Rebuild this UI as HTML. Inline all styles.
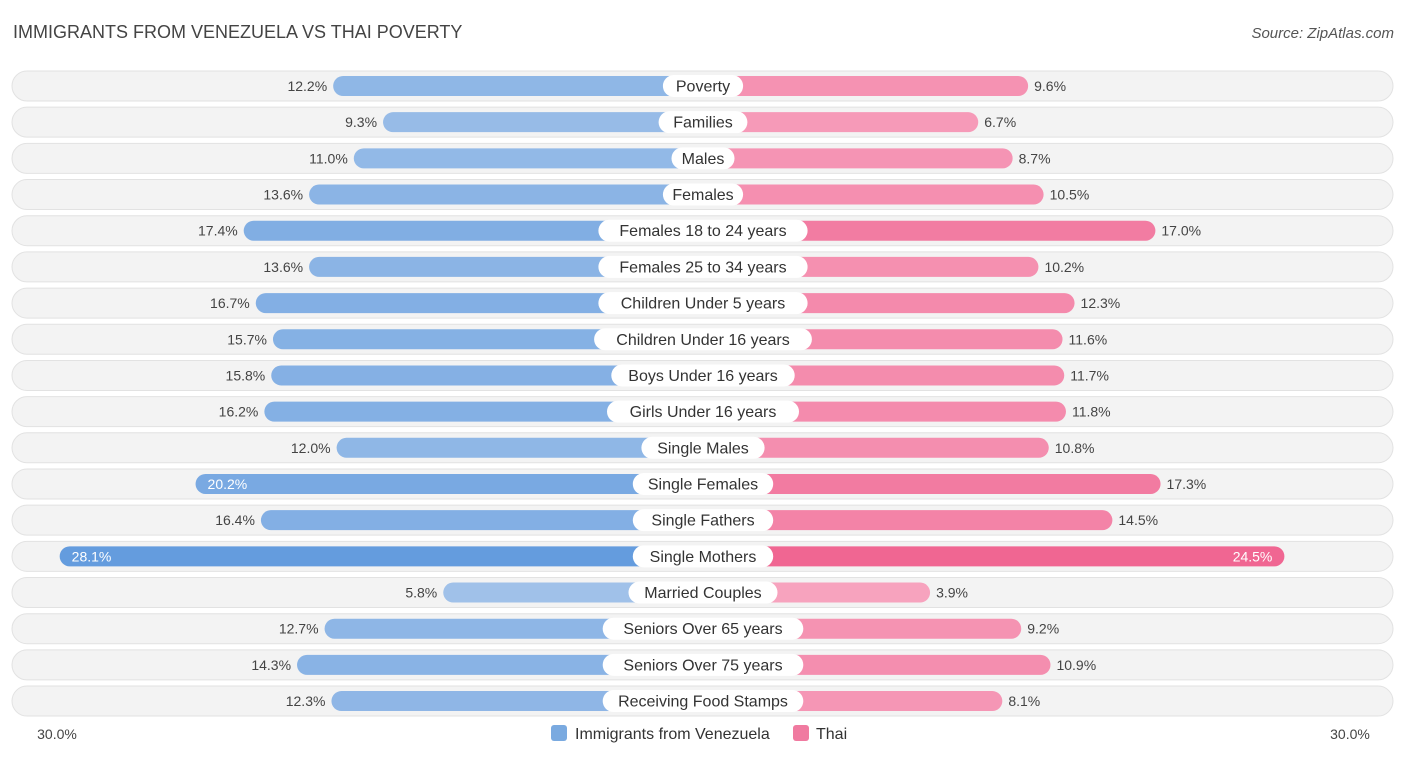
<!DOCTYPE html>
<html><head><meta charset="utf-8"><style>
body{margin:0;width:1406px;height:758px;background:#fff;font-family:"Liberation Sans",sans-serif;overflow:hidden;position:relative}
.t{position:absolute;left:13px;top:22px;font-size:18px;color:#444}
.s{position:absolute;right:12px;top:25px;font-size:15px;color:#555;font-style:italic}
</style></head><body>
<div class="t">IMMIGRANTS FROM VENEZUELA VS THAI POVERTY</div>
<div class="s">Source: ZipAtlas.com</div>
<svg id="c" width="1406" height="758" style="position:absolute;left:0;top:0"></svg>
<script>
const categories=["Poverty","Families","Males","Females","Females 18 to 24 years","Females 25 to 34 years","Children Under 5 years","Children Under 16 years","Boys Under 16 years","Girls Under 16 years","Single Males","Single Females","Single Fathers","Single Mothers","Married Couples","Seniors Over 65 years","Seniors Over 75 years","Receiving Food Stamps"];
const venezuela=[12.2,9.3,11.0,13.6,17.4,13.6,16.7,15.7,15.8,16.2,12.0,20.2,16.4,28.1,5.8,12.7,14.3,12.3];
const thai=[9.6,6.7,8.7,10.5,17.0,10.2,12.3,11.6,11.7,11.8,10.8,17.3,14.5,24.5,3.9,9.2,10.9,8.1];
const axisLabels=["30.0%","30.0%"];
const svg=document.getElementById('c');const NS='http://www.w3.org/2000/svg';
const cx=703,off=160,k=17.2;
const len=v=>off+k*v;
const rowY=i=>86+i*36.18;
function mk(t,a,p){const e=document.createElementNS(NS,t);for(const q in a)e.setAttribute(q,a[q]);(p||svg).appendChild(e);return e;}
function mix(a,b,t){return 'rgb('+a.map((x,i)=>Math.round(x+(b[i]-x)*t)).join(',')+')';}
categories.forEach((c,i)=>{
 const y=rowY(i);
 const g=mk('g',{});
 
 
 const bg=mk('rect',{x:12,y:y-15,width:1381,height:30,rx:15,fill:'#f3f3f3',stroke:'#e2e2e2'},g);
 
 const v=venezuela[i],w=thai[i];
 const tv=Math.min(1,v/28),tw=Math.min(1,w/24.5);
 const lb=mk('rect',{x:cx-len(v),y:y-10,width:len(v),height:20,rx:10,fill:mix([176,203,236],[100,156,222],tv)},g);
 
 const rb=mk('rect',{x:cx,y:y-10,width:len(w),height:20,rx:10,fill:mix([248,174,198],[240,102,146],tw)},g);
 
 const inL=v>19,inR=w>20;
 const t1=mk('text',{x:inL?cx-len(v)+12:cx-len(v)-6,y:y+5,'font-size':14,fill:inL?'#fff':'#444','text-anchor':inL?'start':'end'},g);
 t1.textContent=v.toFixed(1)+'%';
 const t2=mk('text',{x:inR?cx+len(w)-12:cx+len(w)+6,y:y+5,'font-size':14,fill:inR?'#fff':'#444','text-anchor':inR?'end':'start'},g);
 t2.textContent=w.toFixed(1)+'%';
 const tw2=c.length*8.6+20;
 const pill=mk('rect',{x:cx-tw2/2,y:y-11,width:tw2,height:22,rx:11,fill:'#fff'},g);
 
 const lt=mk('text',{x:cx,y:y+5.5,'font-size':16,fill:'#333','text-anchor':'middle'},g);
 lt.textContent=c;
});
const a1=mk('text',{x:57,y:739,'font-size':14,fill:'#444','text-anchor':'middle'});a1.textContent=axisLabels[0];

const a2=mk('text',{x:1350,y:739,'font-size':14,fill:'#444','text-anchor':'middle'});a2.textContent=axisLabels[1];

const l1=mk('rect',{x:551,y:725,width:16,height:16,rx:3,fill:'#7aaae0'});

const lt1=mk('text',{x:575,y:739,'font-size':16,fill:'#333'});lt1.textContent='Immigrants from Venezuela';

const l2=mk('rect',{x:793,y:725,width:16,height:16,rx:3,fill:'#f07aa0'});

const lt2=mk('text',{x:816,y:739,'font-size':16,fill:'#333'});lt2.textContent='Thai';

</script>
</body></html>
